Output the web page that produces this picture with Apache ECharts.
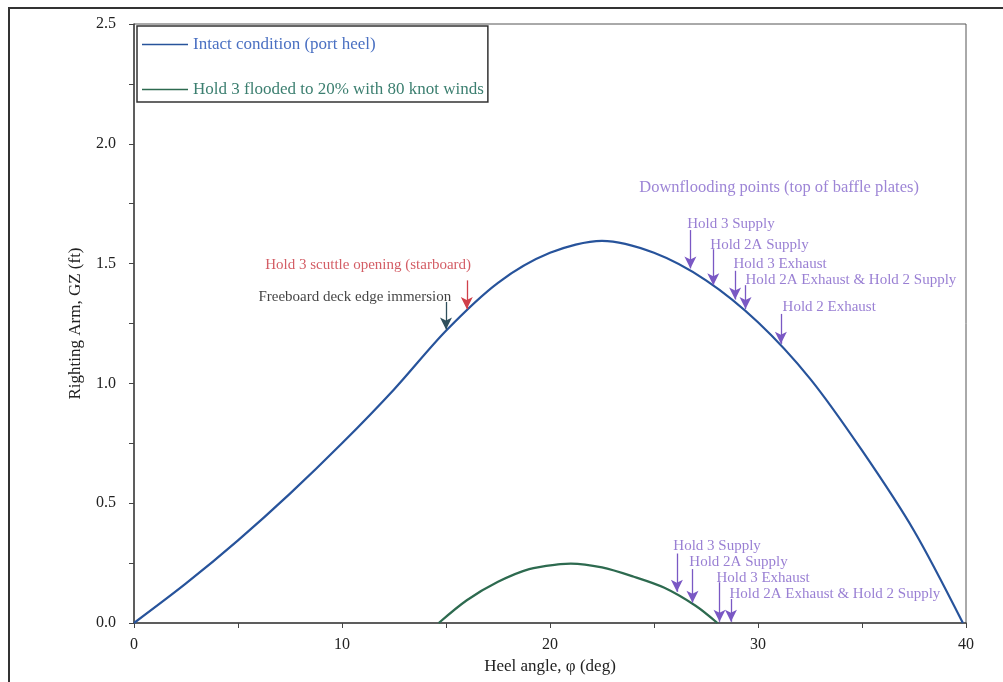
<!DOCTYPE html>
<html>
<head>
<meta charset="utf-8">
<script src="https://cdn.jsdelivr.net/npm/echarts@6/dist/echarts.min.js"></script>
<style>
  html, body { margin: 0; padding: 0; background: #fff; }
  #chart { width: 1003px; height: 682px; }
</style>
</head>
<body>
<div id="chart"></div>
<script>
// Intact condition (port heel): heel angle (deg) vs GZ (ft)
const intactAngle = [0, 2.5, 5, 7.5, 10, 12.5, 15, 17.5, 20, 22.5, 25, 27.5, 30, 32.5, 35, 37.5, 39.85]
const intactGZ = [0, 0.165, 0.345, 0.54, 0.75, 0.975, 1.22, 1.42, 1.545, 1.595, 1.545, 1.43, 1.255, 1.02, 0.72, 0.385, 0]

// Hold 3 flooded to 20% with 80 knot winds
const floodAngle = [14.65, 16, 17.5, 19, 20.5, 21, 22.5, 24, 25.5, 27, 28.05]
const floodGZ = [0, 0.095, 0.172, 0.225, 0.246, 0.248, 0.232, 0.194, 0.147, 0.072, 0]

// annotation arrows: x, start GZ, tip GZ
const arrowX = [15.0, 16.0, 26.75, 27.85, 28.9, 29.4, 31.1, 26.1, 26.85, 28.15, 28.7]
const arrowFrom = [1.34, 1.43, 1.64, 1.56, 1.47, 1.41, 1.29, 0.29, 0.225, 0.17, 0.10]
const arrowTo = [1.225, 1.31, 1.48, 1.41, 1.35, 1.31, 1.165, 0.13, 0.085, 0.005, 0.005]
const arrowKind = ['deck', 'scuttle', 'vent', 'vent', 'vent', 'vent', 'vent', 'vent', 'vent', 'vent', 'vent']

// annotation texts: left x, GZ, text
const noteX = [5.98, 6.31, 24.29, 26.6, 27.71, 28.82, 29.4, 31.18, 25.93, 26.7, 28.0, 28.63]
const noteY = [1.36, 1.495, 1.815, 1.665, 1.578, 1.499, 1.432, 1.32, 0.32, 0.253, 0.186, 0.12]
const noteText = [
  'Freeboard deck edge immersion',
  'Hold 3 scuttle opening (starboard)',
  'Downflooding points (top of baffle plates)',
  'Hold 3 Supply',
  'Hold 2A Supply',
  'Hold 3 Exhaust',
  'Hold 2A Exhaust & Hold 2 Supply',
  'Hold 2 Exhaust',
  'Hold 3 Supply',
  'Hold 2A Supply',
  'Hold 3 Exhaust',
  'Hold 2A Exhaust & Hold 2 Supply'
]
const noteKind = ['deck', 'scuttle', 'title', 'vent', 'vent', 'vent', 'vent', 'vent', 'vent', 'vent', 'vent', 'vent']

const xTicks = [0, 10, 20, 30, 40]
const yTicks = [0, 0.5, 1.0, 1.5, 2.0, 2.5]

const textColors = { deck: '#111', scuttle: '#c8343f', vent: '#7f5fc8', title: '#8466cc' }
const textSizes = { deck: 15, scuttle: 15, vent: 15, title: 16.5 }
const arrowColors = { deck: '#2f4f5c', scuttle: '#d0404a', vent: '#7a58c4' }
const serif = '"Liberation Serif", "DejaVu Serif", serif'

const chart = echarts.init(document.getElementById('chart'))

const arrowLines = arrowX.map((x, i) => [
  { coord: [x, arrowFrom[i]], lineStyle: { color: arrowColors[arrowKind[i]], width: 1.3, type: 'solid' } },
  { coord: [x, arrowTo[i]] }
])

const notes = noteX.map((x, i) => ({
  value: [x, noteY[i]],
  label: { formatter: noteText[i], color: textColors[noteKind[i]], fontSize: textSizes[noteKind[i]] }
}))

const option = {
  animation: false,
  backgroundColor: '#fff',
  grid: {
    left: 134,
    right: 37,
    top: 24,
    bottom: 59,
    show: true,
    borderColor: '#555',
    borderWidth: 1
  },
  legend: {
    left: 137,
    top: 26,
    orient: 'vertical',
    icon: 'rect',
    itemGap: 28,
    itemWidth: 46,
    itemHeight: 1.6,
    padding: [10, 4, 4, 5],
    borderColor: '#333',
    borderWidth: 1.5,
    backgroundColor: '#fff',
    textStyle: { fontFamily: serif, fontSize: 17 },
    data: [
      { name: 'Intact condition (port heel)', textStyle: { color: '#4a70c2' } },
      { name: 'Hold 3 flooded to 20% with 80 knot winds', textStyle: { color: '#3c7f70' } }
    ]
  },
  xAxis: {
    type: 'value',
    min: 0,
    max: 40,
    interval: 10,
    name: 'Heel angle, φ (deg)',
    nameLocation: 'middle',
    nameGap: 32,
    nameTextStyle: { fontFamily: serif, fontSize: 17, color: '#222' },
    axisLine: { show: true, lineStyle: { color: '#444', width: 1.5 } },
    axisTick: { show: true, length: 5, lineStyle: { color: '#444' } },
    minorTick: { show: true, splitNumber: 2, length: 5, lineStyle: { color: '#444' } },
    splitLine: { show: false },
    axisLabel: {
      fontFamily: serif, fontSize: 16, color: '#222', margin: 14,
      formatter: v => xTicks.includes(v) ? String(v) : ''
    }
  },
  yAxis: {
    type: 'value',
    min: 0,
    max: 2.5,
    interval: 0.5,
    name: 'Righting Arm, GZ (ft)',
    nameLocation: 'middle',
    nameGap: 50,
    nameTextStyle: { fontFamily: serif, fontSize: 17, color: '#222' },
    axisLine: { show: true, lineStyle: { color: '#444', width: 1.5 } },
    axisTick: { show: true, length: 5, lineStyle: { color: '#444' } },
    minorTick: { show: true, splitNumber: 2, length: 5, lineStyle: { color: '#444' } },
    splitLine: { show: false },
    axisLabel: {
      fontFamily: serif, fontSize: 16, color: '#222', margin: 18,
      formatter: v => yTicks.includes(v) ? v.toFixed(1) : ''
    }
  },
  series: [
    {
      name: 'Intact condition (port heel)',
      type: 'line',
      smooth: 0.3,
      symbol: 'none',
      color: '#27539b',
      lineStyle: { color: '#27539b', width: 2.2 },
      data: intactAngle.map((a, i) => [a, intactGZ[i]]),
      z: 3
    },
    {
      name: 'Hold 3 flooded to 20% with 80 knot winds',
      type: 'line',
      smooth: 0.3,
      symbol: 'none',
      color: '#2d6a4f',
      lineStyle: { color: '#2d6a4f', width: 2.2 },
      data: floodAngle.map((a, i) => [a, floodGZ[i]]),
      z: 3
    },
    {
      name: 'arrows',
      type: 'line',
      data: [],
      silent: true,
      markLine: {
        silent: true,
        symbol: ['none', 'arrow'],
        symbolSize: [9, 12],
        label: { show: false },
        emphasis: { disabled: true },
        data: arrowLines
      }
    },
    {
      name: 'notes',
      type: 'scatter',
      symbolSize: 0,
      silent: true,
      data: notes,
      label: {
        show: true,
        position: 'inside',
        align: 'left',
        verticalAlign: 'middle',
        fontFamily: serif,
        fontSize: 15
      }
    }
  ],
  graphic: [
    { type: 'line', shape: { x1: 8, y1: 8, x2: 1003, y2: 8 }, style: { stroke: '#333', lineWidth: 2 } },
    { type: 'line', shape: { x1: 9, y1: 8, x2: 9, y2: 682 }, style: { stroke: '#333', lineWidth: 2 } }
  ]
}

chart.setOption(option)
</script>
</body>
</html>
